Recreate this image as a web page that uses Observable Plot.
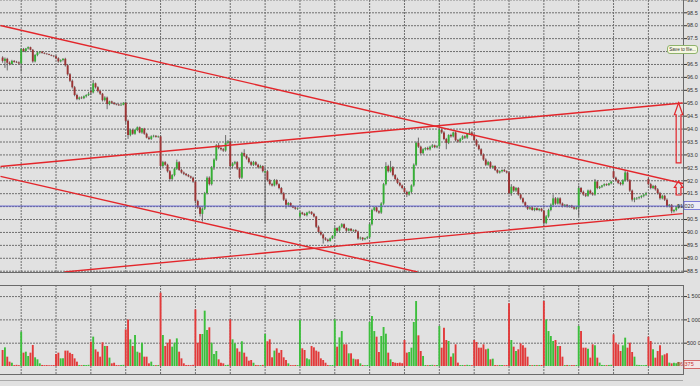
<!DOCTYPE html>
<html><head><meta charset="utf-8">
<script src="https://cdn.jsdelivr.net/npm/d3@7"></script>
<script src="https://cdn.jsdelivr.net/npm/@observablehq/plot@0.6"></script>
<style>
html,body{margin:0;padding:0;background:#e1e1e1;}
#wrap{position:relative;width:700px;height:386px;overflow:hidden;background:#e1e1e1;font-family:"Liberation Sans",Arial,sans-serif;}
#price{position:absolute;left:-3px;top:-3px;}
#vol{position:absolute;left:-3px;top:285px;}
#bottomline{position:absolute;left:0;top:380px;width:683px;height:0;border-top:1px solid #a9a9a9;}
#tip{position:absolute;left:667px;top:45px;width:31px;height:9px;box-sizing:border-box;border:1px solid #8fb36c;border-radius:3px;background:#f6f8e2;font-size:4.6px;line-height:7px;color:#333;text-align:center;white-space:nowrap;overflow:hidden;}
</style></head>
<body><div id="wrap"><div id="price"></div><div id="vol"></div><div id="bottomline"></div><div id="tip">Save to file...</div></div>
<script>
// ---- data (30-min bars, 15 per session) ----
const open = [
96.75,96.62,96.70,96.55,96.50,96.62,96.58,96.56,
96.52,97.08,97.00,97.10,97.15,97.05,96.60,96.85,96.95,96.98,96.93,96.90,96.88,96.85,96.82,
96.80,96.72,96.60,96.65,96.70,96.45,96.10,95.85,95.60,95.30,95.15,95.20,95.18,95.25,95.30,
95.45,95.40,95.75,95.60,95.45,95.35,95.10,95.20,94.95,95.05,95.00,94.95,94.93,94.90,94.92,
95.00,94.30,93.75,93.95,93.80,93.95,94.05,93.85,94.00,93.80,93.65,93.60,93.70,93.72,93.68,
93.70,92.55,92.70,92.60,92.35,92.05,92.20,92.45,92.70,92.40,92.30,92.25,92.20,92.15,92.10,
91.95,91.20,90.95,90.70,90.90,91.50,92.10,91.85,92.50,92.80,93.35,93.25,93.20,93.15,93.45,
93.50,92.55,92.65,92.70,92.45,92.10,93.05,92.95,92.85,92.70,92.60,92.70,92.60,92.50,92.55,
92.30,92.35,92.00,91.85,91.80,92.00,91.85,91.70,91.50,91.25,91.05,91.12,91.00,90.95,90.90,
90.60,90.75,90.70,90.65,90.75,90.78,90.70,90.60,90.20,90.00,89.90,89.75,89.70,89.65,89.75,
89.85,90.15,90.05,90.20,90.30,90.15,90.05,90.12,90.05,90.08,90.02,89.75,89.78,89.72,89.76,
89.80,90.30,90.85,90.95,90.80,90.75,91.10,91.85,92.55,92.35,92.50,92.20,92.05,91.90,91.80,
91.70,91.55,91.45,91.55,91.80,92.60,93.45,93.30,93.05,93.20,93.25,93.20,93.30,93.35,93.28,
93.32,93.95,93.85,93.60,93.45,93.75,93.70,93.85,93.55,93.50,93.60,93.70,93.65,93.80,93.85,
93.75,93.55,93.35,93.20,93.00,92.80,92.60,92.70,92.50,92.55,92.40,92.30,92.35,92.40,92.35,
92.30,91.50,91.75,91.60,91.70,91.45,91.30,91.15,91.00,90.90,90.95,90.85,90.92,90.85,90.90,
90.82,90.35,90.60,90.85,91.05,91.30,91.10,91.30,91.10,91.00,91.05,90.98,91.02,90.95,90.90,
90.95,91.70,91.55,91.45,91.40,91.60,91.50,91.45,91.95,91.70,91.75,91.80,91.85,91.82,91.88,
92.35,92.10,92.00,91.90,91.85,92.00,92.30,92.00,91.60,91.25,91.30,91.32,91.35,91.40,91.45,
92.05,91.85,91.70,91.78,91.65,91.50,91.30,91.40,91.25,91.00,91.05,90.80,90.85,90.95];
const high = [
96.80,96.75,96.74,96.60,96.66,96.65,96.62,96.60,
97.12,97.12,97.12,97.18,97.17,97.08,96.88,96.98,97.00,97.00,96.95,96.92,96.90,96.87,96.84,
96.84,96.76,96.68,96.72,96.74,96.50,96.15,95.90,95.65,95.35,95.24,95.25,95.28,95.33,95.42,
95.60,95.88,95.78,95.64,95.50,95.38,95.25,95.24,95.08,95.08,95.03,94.98,94.96,94.95,95.02,
95.05,94.35,93.98,93.98,93.97,94.08,94.08,94.02,94.03,93.84,93.70,93.74,93.76,93.75,93.73,
93.75,92.75,92.74,92.64,92.40,92.24,92.48,92.80,92.74,92.44,92.34,92.28,92.24,92.18,92.14,
92.00,91.25,91.00,90.95,91.55,92.15,92.15,92.55,92.85,93.40,93.45,93.30,93.25,93.75,93.55,
93.60,92.70,92.75,92.74,92.50,93.10,93.20,93.00,92.90,92.75,92.75,92.74,92.64,92.60,92.58,
92.45,92.40,92.05,91.90,92.05,92.04,91.88,91.74,91.54,91.30,91.16,91.15,91.04,90.98,90.95,
90.80,90.78,90.74,90.78,90.82,90.80,90.74,90.62,90.25,90.05,89.94,89.80,89.74,89.78,89.88,
90.20,90.18,90.24,90.34,90.33,90.18,90.15,90.15,90.10,90.10,90.05,89.82,89.80,89.78,89.84,
90.35,90.90,90.98,90.98,90.84,91.15,91.90,92.70,92.60,92.75,92.55,92.24,92.10,91.94,91.84,
91.74,91.60,91.58,91.84,92.65,93.50,93.65,93.34,93.24,93.28,93.30,93.34,93.40,93.38,93.36,
94.05,94.00,93.90,93.64,93.78,93.80,93.88,93.90,93.60,93.64,93.74,93.74,93.82,94.00,93.90,
93.80,93.60,93.40,93.24,93.04,92.85,92.75,92.74,92.58,92.58,92.44,92.38,92.42,92.44,92.38,
92.35,91.85,91.78,91.74,91.74,91.50,91.34,91.18,91.04,90.98,90.98,90.94,90.95,90.92,90.93,
90.86,90.65,90.90,91.10,91.45,91.35,91.34,91.34,91.14,91.08,91.08,91.04,91.05,90.98,90.98,
91.80,91.74,91.60,91.50,91.64,91.64,91.54,92.05,92.00,91.78,91.82,91.88,91.88,91.90,91.98,
92.45,92.14,92.04,91.94,92.04,92.40,92.34,92.04,91.64,91.34,91.35,91.38,91.42,91.46,91.55,
92.10,91.90,91.82,91.82,91.70,91.55,91.44,91.44,91.30,91.08,91.08,90.88,90.98,91.06];
const low = [
96.55,96.35,96.25,96.45,96.47,96.55,96.54,96.50,
96.20,96.96,96.95,97.06,97.02,96.55,96.56,96.80,96.90,96.90,96.88,96.86,96.84,96.80,96.76,
96.68,96.55,96.56,96.60,96.40,96.05,95.80,95.55,95.25,95.10,95.10,95.14,95.14,95.20,95.26,
95.30,95.36,95.55,95.40,95.30,95.05,95.05,94.75,94.90,94.96,94.92,94.90,94.88,94.88,94.90,
94.20,93.60,93.70,93.76,93.76,93.90,93.82,93.80,93.76,93.62,93.56,93.56,93.66,93.65,93.64,
92.40,92.50,92.56,92.30,91.95,92.00,92.15,92.40,92.36,92.26,92.20,92.16,92.12,92.06,91.90,
91.10,90.90,90.60,90.40,90.85,91.45,91.80,91.80,92.40,92.75,93.20,93.15,93.10,93.10,93.40,
92.45,92.45,92.60,92.40,92.05,92.05,92.90,92.80,92.65,92.55,92.55,92.56,92.46,92.46,92.30,
90.35,91.95,91.80,91.76,91.76,91.80,91.65,91.45,91.20,90.90,91.00,90.96,90.92,90.86,90.85,
90.45,90.66,90.62,90.60,90.70,90.66,90.56,90.15,89.95,89.86,89.55,89.66,89.60,89.62,89.72,
89.80,90.00,90.00,90.16,90.12,90.00,90.02,90.02,90.00,89.98,89.70,89.70,89.66,89.68,89.72,
89.76,90.25,90.80,90.76,90.70,90.70,91.05,91.80,92.30,92.30,92.15,92.00,91.85,91.76,91.65,
91.50,91.35,91.40,91.50,91.75,92.55,93.25,93.00,93.00,93.15,93.16,93.15,93.25,93.24,93.24,
93.28,93.80,93.55,93.20,93.40,93.65,93.66,93.50,93.45,93.46,93.56,93.60,93.60,93.76,93.70,
93.50,93.30,93.15,92.95,92.75,92.55,92.56,92.45,92.45,92.36,92.26,92.26,92.30,92.32,92.26,
91.45,91.40,91.55,91.55,91.40,91.25,91.10,90.95,90.85,90.86,90.82,90.80,90.82,90.80,90.78,
90.22,90.30,90.55,90.80,91.00,91.05,91.06,91.05,90.95,90.96,90.94,90.94,90.92,90.86,90.86,
90.60,91.50,91.40,91.35,91.36,91.45,91.40,91.40,91.65,91.66,91.70,91.76,91.78,91.78,91.84,
92.05,91.95,91.85,91.80,91.80,91.95,91.95,91.55,91.18,91.15,91.24,91.26,91.30,91.34,91.40,
91.80,91.65,91.66,91.60,91.45,91.25,91.26,91.20,90.95,90.95,90.72,90.75,90.80,90.90];
const close = [
96.62,96.70,96.55,96.50,96.62,96.58,96.56,96.52,
97.08,97.00,97.10,97.15,97.05,96.60,96.85,96.95,96.98,96.93,96.90,96.88,96.85,96.82,96.80,
96.72,96.60,96.65,96.70,96.45,96.10,95.85,95.60,95.30,95.15,95.20,95.18,95.25,95.30,95.35,
95.40,95.75,95.60,95.45,95.35,95.10,95.20,94.95,95.05,95.00,94.95,94.93,94.90,94.92,95.00,
94.30,93.75,93.95,93.80,93.95,94.05,93.85,94.00,93.80,93.65,93.60,93.70,93.72,93.68,93.70,
92.55,92.70,92.60,92.35,92.05,92.20,92.45,92.70,92.40,92.30,92.25,92.20,92.15,92.10,91.95,
91.20,90.95,90.70,90.90,91.50,92.10,91.85,92.50,92.80,93.35,93.25,93.20,93.15,93.45,93.50,
92.55,92.65,92.70,92.45,92.10,93.05,92.95,92.85,92.70,92.60,92.70,92.60,92.50,92.55,92.35,
92.35,92.00,91.85,91.80,92.00,91.85,91.70,91.50,91.25,91.05,91.12,91.00,90.95,90.90,90.92,
90.75,90.70,90.65,90.75,90.78,90.70,90.60,90.20,90.00,89.90,89.75,89.70,89.65,89.75,89.85,
90.15,90.05,90.20,90.30,90.15,90.05,90.12,90.05,90.08,90.02,89.75,89.78,89.72,89.76,89.80,
90.30,90.85,90.95,90.80,90.75,91.10,91.85,92.55,92.35,92.50,92.20,92.05,91.90,91.80,91.70,
91.55,91.45,91.55,91.80,92.60,93.45,93.30,93.05,93.20,93.25,93.20,93.30,93.35,93.28,93.32,
93.95,93.85,93.60,93.45,93.75,93.70,93.85,93.55,93.50,93.60,93.70,93.65,93.80,93.85,93.75,
93.55,93.35,93.20,93.00,92.80,92.60,92.70,92.50,92.55,92.40,92.30,92.35,92.40,92.35,92.30,
91.50,91.75,91.60,91.70,91.45,91.30,91.15,91.00,90.90,90.95,90.85,90.92,90.85,90.90,90.82,
90.35,90.60,90.85,91.05,91.30,91.10,91.30,91.10,91.00,91.05,90.98,91.02,90.95,90.90,90.95,
91.70,91.55,91.45,91.40,91.60,91.50,91.45,91.95,91.70,91.75,91.80,91.85,91.82,91.88,91.95,
92.10,92.00,91.90,91.85,92.00,92.30,92.00,91.60,91.25,91.30,91.32,91.35,91.40,91.45,91.50,
91.85,91.70,91.78,91.65,91.50,91.30,91.40,91.25,91.00,91.05,90.80,90.85,90.95,91.02];
// volume in thousands
const volumeK = [
343,400,200,93,70,20,25,18,
736,286,307,214,286,450,186,143,57,22,18,20,15,18,20,
257,286,164,164,330,330,286,257,164,93,20,18,22,20,25,
522,630,357,307,200,508,430,430,180,57,70,20,18,22,25,
786,1000,572,430,665,307,286,500,200,200,57,93,20,18,22,
1573,665,430,500,572,415,500,593,307,164,57,20,22,18,25,
1215,500,686,686,1187,772,830,500,257,322,143,70,57,22,25,
1000,572,486,379,307,530,286,200,114,128,70,22,18,20,24,
686,530,572,186,330,379,286,343,186,128,57,20,18,22,20,
986,379,343,164,143,430,400,330,307,164,128,70,20,18,22,
1000,415,615,750,465,465,272,272,157,143,143,57,20,18,22,
944,1073,750,629,300,643,836,693,286,143,86,70,65,72,60,
558,286,300,393,944,1394,658,322,215,22,18,20,25,18,22,
858,393,822,558,536,200,272,465,72,20,22,18,25,20,18,
558,515,393,393,465,358,372,143,157,20,18,22,20,18,20,
1344,558,415,322,358,486,443,393,200,20,18,22,18,20,22,
1394,1000,750,643,536,558,429,429,200,20,22,18,20,18,22,
858,750,393,393,372,179,465,443,179,72,22,20,18,22,25,
679,500,465,322,443,608,393,500,300,200,25,22,20,18,22,
629,536,358,179,322,443,229,250,272,72,57,72,60,86.375];
// first bar of each session
const sessionStart = [8,23,38,53,68,83,98,113,128,143,158,173,188,203,218,233,248,263,278];
const priceTicks = [88.5,89.0,89.5,90.0,90.5,91.0,91.5,92.0,92.5,93.0,93.5,94.0,94.5,95.0,95.5,96.0,96.5,97.0,97.5,98.0,98.5,99.0];
const hiddenPriceLabels = [91.0,97.0]; // covered by the price tag and the tooltip
const volumeTicks = [500,1000,1500];
// trend lines (bar index, price)
const trendX1 = [-0.9,-0.9,-0.9,26.6];
const trendY1 = [98.01,92.55,92.17,88.47];
const trendX2 = [293.1,292.7,178.6,292.7];
const trendY2 = [91.89,95.01,88.47,90.73];
// hollow up-arrows drawn at the right edge
const arrowX = [291.2,291.2];
const arrowFrom = [92.67,91.43];
const arrowTo = [95.0,91.97];

// ---- build ----
const bars = close.map((c,i)=>({i,o:open[i],h:high[i],l:low[i],c,v:volumeK[i],up:c>=open[i]}));
const trends = trendX1.map((x,k)=>({x1:x,y1:trendY1[k],x2:trendX2[k],y2:trendY2[k]}));
const lastClose = close[close.length-1];
const lastVol = volumeK[volumeK.length-1];
const XD = [-2.195,293.11];
const GRID = "#6f6f6f", DASH = "2,1";
const RED = "#e3262b", BLUE = "#6262d0";
const FONT = "Liberation Sans, Arial, sans-serif";
const fmtVol = d => d3.format(",")(Math.round(d*1000)).replace(/,/g," ");
const style = {background:"transparent",fontSize:"5.5px",fontFamily:FONT,color:"#333"};
const getScales = args => args.find(a => a && typeof a.x === "function" && typeof a.y === "function");

function priceAnnot(...args){
  const s = getScales(args);
  const g = d3.create("svg:g");
  arrowX.forEach((xv,k)=>{
    const x = s.x(xv), yb = s.y(arrowFrom[k]), yt = s.y(arrowTo[k]);
    const hl = Math.min(12,(yb-yt)*0.45), hw = 4.2, sw = 2.4;
    const pts = [[x,yt],[x+hw,yt+hl],[x+sw,yt+hl],[x+sw,yb],[x-sw,yb],[x-sw,yt+hl],[x-hw,yt+hl]];
    g.append("path").attr("d","M"+pts.map(p=>p.map(v=>v.toFixed(2)).join(",")).join("L")+"Z")
      .attr("fill","none").attr("stroke",RED).attr("stroke-width",1.2);
  });
  const yv = s.y(lastClose), xr = s.x(XD[1]);
  g.append("rect").attr("x",xr+1).attr("y",yv-4).attr("width",17).attr("height",8)
    .attr("fill","#ececf6").attr("stroke",BLUE).attr("stroke-width",0.8);
  g.append("text").attr("x",xr+2.3).attr("y",yv+2).attr("font-size",5.5).attr("fill","#333")
    .attr("font-family",FONT).text(lastClose.toFixed(3));
  return g.node();
}
function volAnnot(...args){
  const s = getScales(args);
  const g = d3.create("svg:g");
  const yv = s.y(lastVol)+2.5, xr = s.x(XD[1]);
  g.append("rect").attr("x",xr+1).attr("y",yv-4).attr("width",17).attr("height",8)
    .attr("fill","#f3e6e6").attr("stroke","#d04a4a").attr("stroke-width",0.8);
  g.append("text").attr("x",xr+2.3).attr("y",yv+2).attr("font-size",5.5).attr("fill","#c83030")
    .attr("font-family",FONT).text(fmtVol(lastVol));
  return g.node();
}

const pricePlot = Plot.plot({
  width:703, height:276, marginLeft:0, marginRight:17, marginTop:0, marginBottom:1,
  style,
  color:{type:"identity"},
  x:{domain:XD, axis:null},
  y:{domain:[88.45,99.092], axis:"right", ticks:priceTicks,
     tickFormat:d=>hiddenPriceLabels.some(h=>Math.abs(h-d)<1e-6)?"":d.toFixed(1),
     tickSize:3, tickPadding:0.5, label:null},
  marks:[
    Plot.ruleY(priceTicks,{stroke:GRID,strokeDasharray:DASH,strokeWidth:1}),
    Plot.ruleX(sessionStart,{stroke:GRID,strokeDasharray:DASH,strokeWidth:1}),
    Plot.ruleX(bars,{x:"i",y1:"l",y2:"h",stroke:"#5e5e5e",strokeWidth:0.9}),
    Plot.ruleX(bars,{x:"i",y1:"o",y2:"c",stroke:d=>d.up?"#35b035":"#9c3434",strokeWidth:1.9}),
    Plot.ruleY([lastClose],{stroke:BLUE,strokeWidth:1}),
    Plot.link(trends,{x1:"x1",y1:"y1",x2:"x2",y2:"y2",stroke:RED,strokeWidth:1.4,clip:true}),
    Plot.frame({stroke:"#6a6a6a"}),
    priceAnnot
  ]
});
document.getElementById("price").appendChild(pricePlot);

const volPlot = Plot.plot({
  width:703, height:90, marginLeft:0, marginRight:17, marginTop:0, marginBottom:1,
  style,
  color:{type:"identity"},
  x:{domain:XD, axis:null},
  y:{domain:[-172,1738], axis:"right", ticks:volumeTicks, tickFormat:fmtVol, tickSize:3, tickPadding:0.5, label:null},
  marks:[
    Plot.ruleY(volumeTicks,{stroke:GRID,strokeDasharray:DASH,strokeWidth:1}),
    Plot.ruleX(sessionStart,{stroke:GRID,strokeDasharray:DASH,strokeWidth:1}),
    Plot.ruleX(bars,{x:"i",y1:0,y2:"v",stroke:d=>d.up?"#3cbf3c":"#e23a3a",strokeWidth:1.9}),
    Plot.frame({stroke:"#6a6a6a"}),
    volAnnot
  ]
});
document.getElementById("vol").appendChild(volPlot);
</script>
</body></html>
